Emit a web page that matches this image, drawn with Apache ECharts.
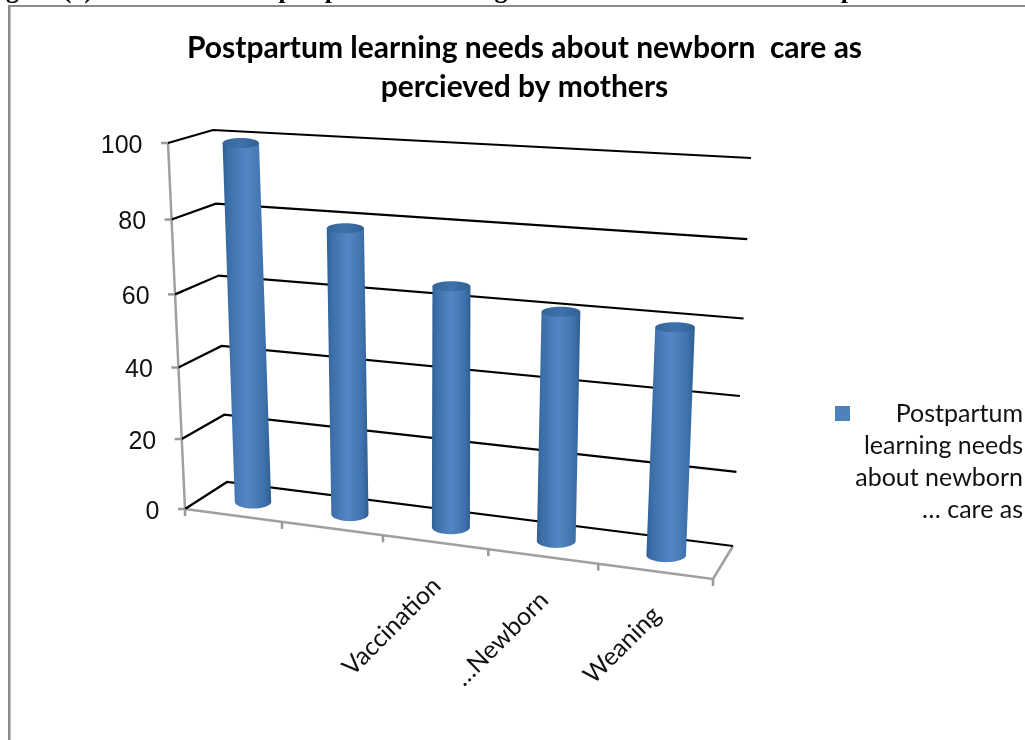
<!DOCTYPE html>
<html>
<head>
<meta charset="utf-8">
<style>html,body{margin:0;padding:0;background:#fff;overflow:hidden}#chart{width:1025px;height:740px}</style>
<script src="https://cdn.jsdelivr.net/npm/echarts@6/dist/echarts.min.js"></script>
</head>
<body>
<div id="chart"></div>
<script>
// Learning needs as reported by mothers
const categories = ['', '', 'Vaccination', '…Newborn', 'Weaning'];
const needsValues = [99, 78.4, 65.3, 61, 59.5];
const valueTicks = [0, 20, 40, 60, 80, 100];
const seriesName = 'Postpartum learning needs about newborn care as';
const legendLines = ['Postpartum', 'learning needs', 'about newborn', '… care as'];
const chartTitle = 'Postpartum learning needs about newborn  care as\npercieved by mothers';
const pageHeading = 'Figure (1): Distribution of postpartum learning needs about newborn care as perceived';

// Box corners of the 3D scene, [x, y] on screen
const box = {
  floorFL: [185, 509], floorBL: [227, 482], floorBR: [733, 546], floorFR: [713, 579],
  topFL: [168, 143], topBL: [213, 130], topBR: [751, 158], topFR: [733, 175]
};
const plot = { left: 200, top: 150, width: 500, height: 350 };
const DEPTH_X = 0.111, DEPTH_V = 0.058;

function mix(a, b, t) { return [a[0] + (b[0] - a[0]) * t, a[1] + (b[1] - a[1]) * t]; }
// u: along categories, w: front to back, v: up the value axis (all 0..1 on the hidden grid)
function project(u, w, v) {
  const uu = u / (1 + DEPTH_X * (1 - u));
  const vv = v / (1 + DEPTH_V * (1 - v));
  const floor = mix(mix(box.floorFL, box.floorFR, uu), mix(box.floorBL, box.floorBR, uu), w);
  const top = mix(mix(box.topFL, box.topFR, uu), mix(box.topBL, box.topBR, uu), w);
  return mix(floor, top, vv);
}
function toUnit(pt) {
  return [(pt[0] - plot.left) / plot.width, (plot.top + plot.height - pt[1]) / plot.height];
}

const barGradient = () => new echarts.graphic.LinearGradient(0, 0, 1, 0, [
  { offset: 0, color: '#2f5f94' }, { offset: 0.12, color: '#3c6fa9' },
  { offset: 0.5, color: '#5486c5' }, { offset: 0.85, color: '#3f72ac' }, { offset: 1, color: '#2f5d90' }
]);
const capGradient = () => new echarts.graphic.LinearGradient(0, 0, 1, 0, [
  { offset: 0, color: '#356597' }, { offset: 0.5, color: '#3f72ac' }, { offset: 1, color: '#2f5f94' }
]);

function ellipsePoints(c, rx, ry, from, to, n) {
  const pts = [];
  for (let k = 0; k <= n; k++) {
    const a = from + (to - from) * k / n;
    pts.push([c[0] + rx * Math.cos(a), c[1] + ry * Math.sin(a)]);
  }
  return pts;
}

function renderCylinder(params, api) {
  const unit = toUnit(api.coord([api.value(0), api.value(1)]));
  const base = project(unit[0], 0.5, 0);
  const top = project(unit[0], 0.5, unit[1]);
  const rx = 18 + 2 * unit[0], ryBase = 7, ryTop = 5;
  const body = [[top[0] - rx, top[1]], [top[0] + rx, top[1]]]
    .concat(ellipsePoints(base, rx, ryBase, 0, Math.PI, 28));
  return {
    type: 'group',
    children: [
      { type: 'polygon', shape: { points: body }, style: { fill: barGradient() } },
      { type: 'polygon', shape: { points: ellipsePoints(top, rx, ryTop, 0, Math.PI * 2, 40) }, style: { fill: capGradient() } }
    ]
  };
}

function renderGridLine(params, api) {
  const v = toUnit(api.coord([0, api.value(0)]))[1];
  return {
    type: 'polyline',
    shape: { points: [project(0, 0, v), project(0, 1, v), project(1, 1, v)] },
    style: { stroke: '#000', lineWidth: 2.2, fill: 'none' },
    silent: true
  };
}

function renderValueTick(params, api) {
  const val = api.value(0);
  const v = toUnit(api.coord([0, val]))[1];
  const p = project(0, 0, v);
  return {
    type: 'group',
    children: [
      { type: 'line', shape: { x1: p[0] - 7, y1: p[1], x2: p[0], y2: p[1] }, style: { stroke: '#9a9a9a', lineWidth: 2.5 } },
      { type: 'text', x: p[0] - 25.5, y: p[1] + 3, style: { text: String(val), align: 'right', verticalAlign: 'middle', font: '25px "Liberation Sans"', fill: '#111' } }
    ]
  };
}

function renderCategoryMark(params, api) {
  const i = api.value(0);
  const uTick = i / categories.length;
  const tick = project(uTick, 0, 0);
  const mid = project((i + 0.5) / categories.length, 0, 0);
  const children = [
    { type: 'line', shape: { x1: tick[0], y1: tick[1], x2: tick[0], y2: tick[1] + 7 }, style: { stroke: '#9a9a9a', lineWidth: 2.5 } }
  ];
  if (categories[i]) {
    children.push({
      type: 'text', x: mid[0] + 1.5, y: mid[1] + 39.5, rotation: Math.PI / 4,
      style: { text: categories[i], align: 'right', verticalAlign: 'middle', font: '25px Lato', fill: '#111' }
    });
  }
  return { type: 'group', children };
}

function renderFrame() {
  const pts = [[box.topFL, box.floorFL], [box.floorFL, box.floorFR], [box.floorFR, box.floorBR]];
  const end = project(1, 0, 0);
  return {
    type: 'group',
    children: pts.map(s => ({
      type: 'line',
      shape: { x1: s[0][0], y1: s[0][1], x2: s[1][0], y2: s[1][1] },
      style: { stroke: '#a0a0a0', lineWidth: 2.5 }
    })).concat([{ type: 'line', shape: { x1: end[0], y1: end[1], x2: end[0], y2: end[1] + 7 }, style: { stroke: '#9a9a9a', lineWidth: 2.5 } }])
  };
}

const chart = echarts.init(document.getElementById('chart'), null, { renderer: 'canvas' });
chart.setOption({
  animation: false,
  backgroundColor: '#fff',
  title: {
    text: chartTitle, left: 519.5, top: 24, textAlign: 'center',
    textStyle: { fontFamily: 'Lato', fontWeight: 'bold', fontSize: 30, lineHeight: 39, color: '#000' }
  },
  legend: {
    left: 830, top: 300, itemWidth: 15, itemHeight: 15, itemGap: 0, icon: 'rect',
    data: [seriesName],
    formatter: () => ['', '', ''].concat(legendLines).map(l => '{r|' + (l || ' ') + '}').join('\n'),
    textStyle: { rich: { r: { width: 168, align: 'right', fontFamily: 'Lato', fontSize: 25, lineHeight: 32, color: '#111' } } }
  },
  grid: plot,
  xAxis: { type: 'category', data: categories, show: false },
  yAxis: { type: 'value', min: 0, max: 100, interval: 20, show: false },
  graphic: [
    { type: 'text', left: -17, top: -22, silent: true, style: { text: pageHeading, font: 'bold 26px "Liberation Serif"', fill: '#000' } },
    { type: 'rect', left: 8, top: 5, shape: { width: 2.5, height: 735 }, style: { fill: '#8a8a8a' } },
    { type: 'rect', left: 8, top: 5, shape: { width: 1017, height: 2 }, style: { fill: '#8a8a8a' } }
  ],
  series: [
    { type: 'custom', name: 'frame', data: [0], renderItem: renderFrame, z: 1, silent: true },
    { type: 'custom', name: 'gridLines', data: valueTicks.map(v => [v]), encode: { y: 0 }, renderItem: renderGridLine, z: 2, silent: true },
    { type: 'custom', name: 'valueAxis', data: valueTicks.map(v => [v]), encode: { y: 0 }, renderItem: renderValueTick, z: 3, silent: true },
    { type: 'custom', name: 'categoryAxis', data: categories.map((c, i) => [i]), encode: { x: 0 }, renderItem: renderCategoryMark, z: 3, silent: true },
    {
      type: 'custom', name: seriesName, itemStyle: { color: '#4f81bd' },
      data: needsValues.map((v, i) => [i, v]), encode: { x: 0, y: 1 },
      renderItem: renderCylinder, z: 4
    }
  ]
});
</script>
</body>
</html>
